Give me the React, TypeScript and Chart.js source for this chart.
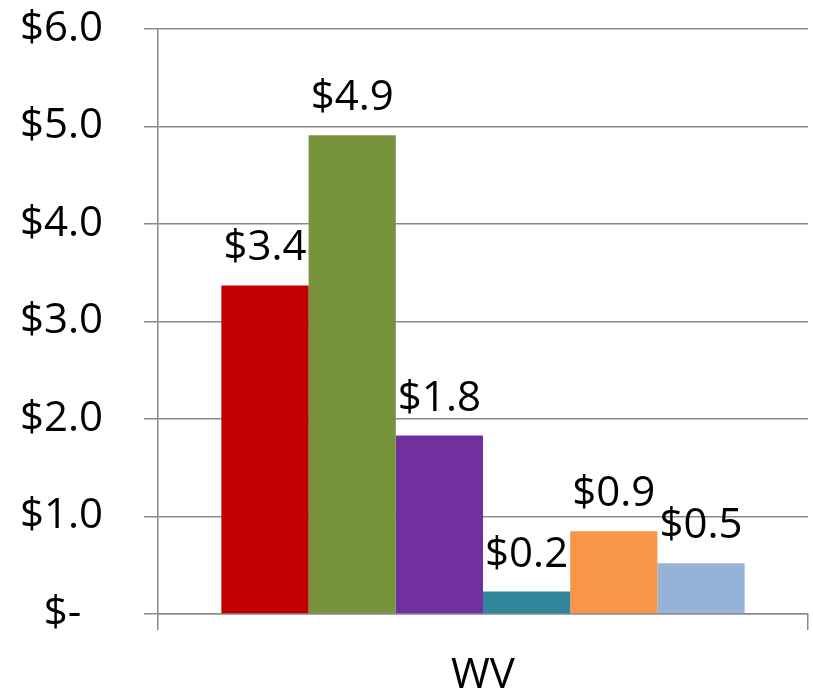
import React, { useEffect, useRef } from "react";
import { Chart, registerables } from "chart.js";

Chart.register(...registerables);

const categories = ["WV"];
const seriesNames = ["S1", "S2", "S3", "S4", "S5", "S6"];
const seriesValues = [3.37, 4.91, 1.83, 0.23, 0.85, 0.52];
const seriesColors = ["#C00000", "#77933C", "#7030A0", "#31859C", "#F79646", "#95B3D7"];
const yTicks = [0, 1, 2, 3, 4, 5, 6];

const FONT = "'Open Sans', 'Noto Sans', sans-serif";
const FONT_SIZE = 42;

const money = (v: number) => "$" + (Math.round(v * 10 + 1e-9) / 10).toFixed(1);
const fmt = (v: number) => (v === 0 ? "$-  " : money(v));

const labelPlugin = {
  id: "barLabels",
  afterDatasetsDraw(chart: any) {
    const ctx = chart.ctx;
    ctx.save();
    ctx.font = `${FONT_SIZE}px ${FONT}`;
    ctx.fillStyle = "#000";
    ctx.textAlign = "center";
    ctx.textBaseline = "alphabetic";
    chart.data.datasets.forEach((ds: any, i: number) => {
      const meta = chart.getDatasetMeta(i);
      meta.data.forEach((bar: any, j: number) => {
        const v = ds.data[j];
        ctx.fillText(money(v), bar.x, bar.y - 25);
      });
    });
    ctx.restore();
  },
};

export default function App() {
  const ref = useRef<HTMLCanvasElement>(null);
  useEffect(() => {
    document.body.style.margin = "0";
    const chart = new Chart(ref.current!, {
      type: "bar",
      data: {
        labels: categories,
        datasets: seriesNames.map((n, i) => ({
          label: n,
          data: [seriesValues[i]],
          backgroundColor: seriesColors[i],
          borderWidth: 0,
          barPercentage: 1,
          categoryPercentage: 0.805,
        })),
      },
      options: {
        animation: false,
        responsive: false,
        maintainAspectRatio: false,
        layout: { padding: { top: 29, right: 5, left: 0, bottom: 0 } },
        plugins: { legend: { display: false }, tooltip: { enabled: false } },
        scales: {
          x: {
            afterFit: (s: any) => {
              s.height = 80;
              s.paddingLeft = 0;
              s.paddingRight = 0;
            },
            grid: {
              display: true,
              offset: true,
              drawOnChartArea: false,
              drawTicks: true,
              tickLength: 16,
              color: "#8a8a8a",
              lineWidth: 1.5,
            },
            border: { display: true, color: "#8a8a8a", width: 1.5 },
            ticks: {
              color: "#000",
              font: { family: FONT, size: FONT_SIZE },
              padding: 21,
            },
          },
          y: {
            min: 0,
            max: 6,
            afterFit: (s: any) => {
              s.width = 158;
              s.paddingTop = 0;
              s.paddingBottom = 0;
            },
            afterBuildTicks: (s: any) => {
              s.ticks = yTicks.map((v) => ({ value: v }));
            },
            grid: {
              color: "#8a8a8a",
              lineWidth: 1.5,
              drawTicks: true,
              tickLength: 14,
            },
            border: { display: true, color: "#8a8a8a", width: 1.5 },
            ticks: {
              color: "#000",
              font: { family: FONT, size: FONT_SIZE },
              padding: 41,
              callback: (v: any) => fmt(Number(v)),
            },
          },
        },
      },
      plugins: [labelPlugin],
    });
    return () => chart.destroy();
  }, []);
  return (
    <div style={{ width: 813, height: 694 }}>
      <canvas ref={ref} width={813} height={694} style={{ width: 813, height: 694, display: "block" }} />
    </div>
  );
}
